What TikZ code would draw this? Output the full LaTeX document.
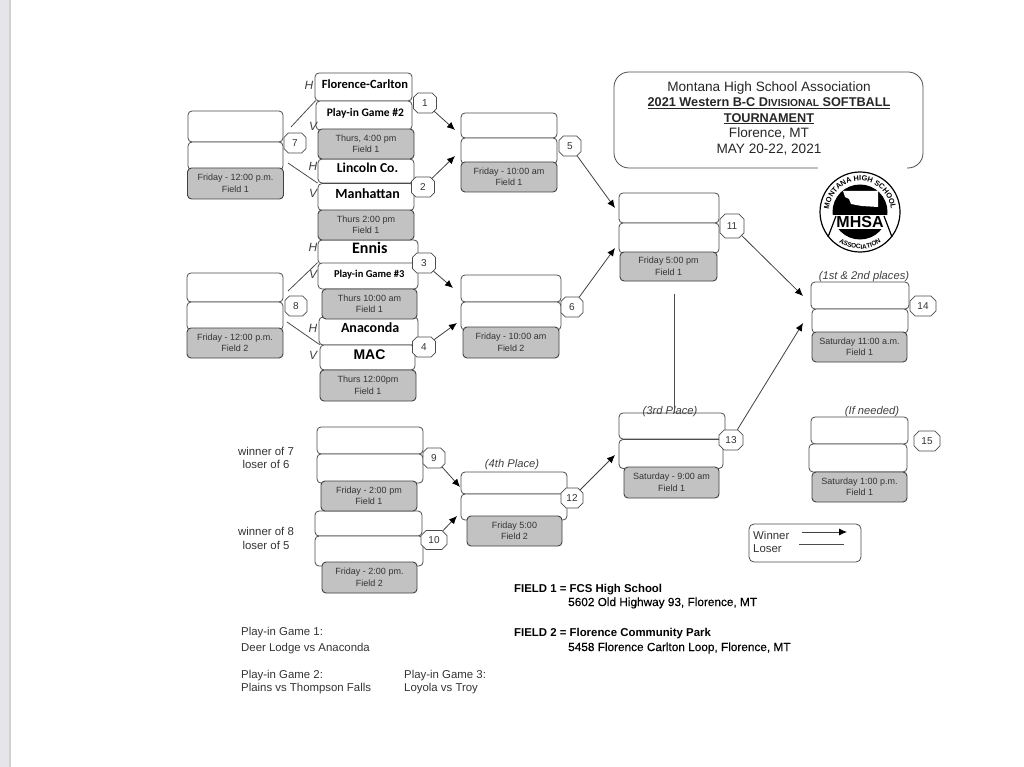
\documentclass[tikz,border=0pt]{standalone}
\usepackage{fontspec}
\setmainfont{Liberation Sans}
\newfontfamily\teamfont{Carlito}
\newfontfamily\addrfont[FakeBold=0.3]{Liberation Sans}
\usetikzlibrary{arrows.meta,shapes.misc,decorations.text}
\newcommand{\tfont}[1]{\teamfont\bfseries\fontsize{#1}{#1}\selectfont}
\newcommand{\afont}[1]{\bfseries\fontsize{#1}{#1}\selectfont}
\definecolor{pageedge}{HTML}{E5E5EA}

\begin{document}
\begin{tikzpicture}[x=1pt,y=-1pt,
    slot/.style = {draw=black!70, fill=white, rounded corners=4pt, line width=0.8pt, inner sep=0pt, text depth=5pt, text height=8pt, text=black},
    timeslot/.style = {draw=black!75, fill=black!24, rounded corners=4pt, line width=0.9pt, inner sep=0pt, align=center, text=black!80, font=\fontsize{9}{11.5}\selectfont},
    numtag/.style = {draw=black!70, fill=white, chamfered rectangle, chamfered rectangle angle=45, chamfered rectangle xsep=1.6pt, line width=0.8pt, inner sep=0pt, text=black!80, font=\fontsize{10}{10}\selectfont},
    side/.style = {text=black!75, font=\itshape\fontsize{12}{12}\selectfont},
    note/.style = {text=black!80, font=\fontsize{11.4}{11.4}\selectfont},
    place/.style = {text=black!75, font=\itshape\fontsize{11.2}{11.2}\selectfont},
    win/.style = {draw=black!75, line width=0.8pt, -{Latex[length=8pt,width=7pt,black]}},
    lose/.style = {draw=black!70, line width=0.8pt}]
    \useasboundingbox (0,0) rectangle (1024,767);
    \fill[pageedge] (0,0) rectangle (10,767);
    \fill[black!18] (9,0) rectangle (11,767);

    \node[draw=black!70, line width=0.8pt, rounded corners=15pt, minimum width=309pt, minimum height=96pt] (titlebox) at (768.5,120) {};
    \node[align=center, text=black!85, font=\fontsize{13.6}{15.5}\selectfont] (titletext) at (769,118)
        {Montana High School Association\\
        {\afont{12.7}\underline{2021 Western B-C D{\fontsize{10.2}{10.2}\selectfont IVISIONAL} SOFTBALL}}\\
        {\afont{12.7}\underline{TOURNAMENT}}\\
        Florence, MT\\
        MAY 20-22, 2021};

    \foreach \nm/\cx/\cy/\bw/\bh/\lbl in {
        a1/363.5/87/97/28/{\tfont{12.5} Florence-Carlton},
        a2/364/115.5/96/29/{\tfont{11.5} Play-in Game \#2},
        a3/366/171/96/24/{\tfont{13.6} Lincoln Co.},
        a4/366/197/96/27/{\tfont{14} Manhattan},
        a5/368/252/100/24/{\tfont{16} Ennis},
        a6/368/276/100/26/{\tfont{10.5} Play-in Game \#3},
        a7/368.5/331/99/28/{\tfont{14} Anaconda},
        a8/367.5/357.5/95/25/{\afont{14} MAC},
        b7a/235.5/126.5/95/31/{}, b7b/235.5/156/95/28/{},
        b8a/235/287.5/96/29/{}, b8b/235/316/96/28/{},
        b5a/509/125.5/96/25/{}, b5b/509/151/96/26/{},
        b6a/511/288.5/100/27/{}, b6b/511/316/100/28/{},
        b11a/669/208/100/30/{}, b11b/669/238/100/30/{},
        b13a/672/426/106/26/{}, b13b/671/454/104/29/{},
        b14a/860/295.5/98/27/{}, b14b/860/321/96/24/{},
        b15a/859.5/430.5/97/27/{}, b15b/858/458/98/28/{},
        b9a/370/440.5/106/27/{}, b9b/370/468.5/106/29/{},
        b10a/368.5/523.5/107/25/{}, b10b/369/551/108/30/{},
        b12a/514/483/106/22/{}, b12b/514/507/106/26/{}} {
        \node[slot, minimum width=\bw pt, minimum height=\bh pt] (\nm) at (\cx,\cy) {\lbl};
    }

    \foreach \nm/\cx/\cy/\bw/\bh/\lbl in {
        g1/366/144/96/30/{Thurs, 4:00 pm\\Field 1},
        g2/366/225/96/30/{Thurs 2:00 pm\\Field 1},
        g3/369.5/304/95/30/{Thurs 10:00 am\\Field 1},
        g4/368/385.5/96/31/{Thurs 12:00pm\\Field 1},
        g5/509/177/96/30/{Friday - 10:00 am\\Field 1},
        g6/511/342.5/96/31/{Friday - 10:00 am\\Field 2},
        g7/235.5/183.5/96/31/{Friday - 12:00 p.m.\\Field 1},
        g8/235/343/96/30/{Friday - 12:00 p.m.\\Field 2},
        g9/369/496/96/30/{Friday - 2:00 pm\\Field 1},
        g10/369.5/577.5/95/31/{Friday - 2:00 pm.\\Field 2},
        g11/668.5/266.5/97/29/{Friday 5:00 pm\\Field 1},
        g12/514.5/531/95/30/{Friday 5:00\\Field 2},
        g13/671.5/482.5/95/31/{Saturday - 9:00 am\\Field 1},
        g14/859.5/347/95/30/{Saturday 11:00 a.m.\\Field 1},
        g15/859.5/487/95/30/{Saturday 1:00 p.m.\\Field 1}} {
        \node[timeslot, minimum width=\bw pt, minimum height=\bh pt] (\nm) at (\cx,\cy) {\lbl};
    }

    \foreach \num/\cx/\cy/\bw/\bh in {
        1/425/103/23/20, 2/423/187/23/20, 3/424/263/23/20, 4/424/347/23/20,
        5/570/146/22/20, 6/572/307/22/20, 7/295/143/22/20, 8/296/306/22/20,
        9/434/458/22/20, 10/434/540/26/19, 11/732/226/24/24, 12/572/498/22/20,
        13/731/440/24/20, 14/923/306/26/20, 15/927/441/26/20} {
        \node[numtag, minimum width=\bw pt, minimum height=\bh pt] (tag\num) at (\cx,\cy) {\num};
    }

    \foreach \nm/\cx/\cy/\lbl in {
        h1/309/85/H, v1/313/126/V, h2/313/166/H, v2/313/193/V,
        h3/313/247/H, v3/313/274/V, h4/313/328/H, v4/313/355/V} {
        \node[side] (\nm) at (\cx,\cy) {\lbl};
    }

    \foreach \nm/\cx/\cy/\lbl in {
        p12/864/276.5/{(1st \& 2nd places)}, p34/670/412/{(3rd Place)},
        p4/512/465/{(4th Place)}, pif/872/412/{(If needed)}} {
        \node[place] (\nm) at (\cx,\cy) {\lbl};
    }

    \foreach \nm/\cx/\cy/\lbl in {
        w7/266/451/winner of 7, l6/266/464/loser of 6,
        w8/266/531/winner of 8, l5/266/545/loser of 5} {
        \node[note] (\nm) at (\cx,\cy) {\lbl};
    }

    \foreach \nm/\cx/\cy/\lbl in {
        n1/241/632.5/{Play-in Game 1:}, n2/241/648.5/{Deer Lodge vs Anaconda},
        n3/241/675.5/{Play-in Game 2:}, n4/241/688.5/{Plains vs Thompson Falls},
        n5/404/675.5/{Play-in Game 3:}, n6/404/688.5/{Loyola vs Troy}} {
        \node[note, anchor=west, inner sep=0pt] (\nm) at (\cx,\cy) {\lbl};
    }

    \node[anchor=west, inner sep=0pt, font=\afont{11.4}] (field1) at (514,589.5) {FIELD 1 = FCS High School};
    \node[anchor=west, inner sep=0pt, font=\addrfont\fontsize{11.8}{11.8}\selectfont] (addr1) at (568,603) {5602 Old Highway 93, Florence, MT};
    \node[anchor=west, inner sep=0pt, font=\afont{11.4}] (field2) at (514,633.5) {FIELD 2 = Florence Community Park};
    \node[anchor=west, inner sep=0pt, font=\addrfont\fontsize{11.8}{11.8}\selectfont] (addr2) at (568,648) {5458 Florence Carlton Loop, Florence, MT};

    \coordinate (in5a) at (455,130);
    \coordinate (in5b) at (455,156);
    \coordinate (in6a) at (453,288);
    \coordinate (in6b) at (457,323);
    \coordinate (in11a) at (615,208);
    \coordinate (in11b) at (615,248);
    \coordinate (in12a) at (460,487);
    \coordinate (in12b) at (457,516);
    \coordinate (in13) at (615,455);
    \coordinate (in14a) at (803,296);
    \coordinate (in14b) at (803,323);
    \coordinate (out7a) at (291,127);
    \coordinate (out7b) at (288,163);
    \coordinate (out8a) at (288,291);
    \coordinate (out8b) at (287,322);
    \coordinate (out11) at (674,294);

    \draw[win] (tag1) -- (in5a);
    \draw[win] (tag2) -- (in5b);
    \draw[win] (tag3) -- (in6a);
    \draw[win] (tag4) -- (in6b);
    \draw[win] (tag5) -- (in11a);
    \draw[win] (tag6) -- (in11b);
    \draw[win] (tag9) -- (in12a);
    \draw[win] (tag10) -- (in12b);
    \draw[win] (tag12) -- (in13);
    \draw[win] (tag11) -- (in14a);
    \draw[win] (tag13) -- (in14b);
    \draw[lose] (out7a) -- (a2.north west);
    \draw[lose] (out7b) -- (a4.north west);
    \draw[lose] (out8a) -- (a6.north west);
    \draw[lose] (out8b) -- (a8.north west);
    \draw[lose] (out11) -- (out11 |- b13a.north);

    \node[draw=black!70, line width=0.8pt, rounded corners=5pt, minimum width=112pt, minimum height=38pt] (legend) at (805,543) {};
    \node[note, anchor=west, inner sep=0pt] (lwin) at (753,535) {Winner};
    \node[note, anchor=west, inner sep=0pt] (llose) at (753,549) {Loser};
    \coordinate (lwa) at (802,532);
    \coordinate (lwb) at (847,532);
    \coordinate (lla) at (799,544);
    \coordinate (llb) at (844,544);
    \draw[win] (lwa) -- (lwb);
    \draw[lose] (lla) -- (llb);

    \fill[white] (818,162) rectangle (907,172);
    \coordinate (logo) at (860,212);
    \draw[black, fill=white, line width=1.2pt] (logo) circle (40);
    \begin{scope}
        \clip (logo) circle (27.5);
        \fill[black] (830,182) rectangle (890,215);
        \fill[black] (830,229) rectangle (890,242);
    \end{scope}
    \fill[white] (843,191) -- (878,191) -- (878,207) -- (862,206) -- (856,205) -- (851,204) -- (849,199) -- (845,197) -- cycle;
    \draw[black, line width=1.2pt] (836,216) -- (828,237);
    \draw[black, line width=1.2pt] (884,216) -- (892,237);
    \node[inner sep=0pt, font=\afont{16}] (mhsa) at (860,222) {MHSA};
    \path[decorate, decoration={text along path, text align=center,
        text={|\bfseries\fontsize{7.4}{7.4}\selectfont|MONTANA HIGH SCHOOL}}]
        (829,212) arc (180:360:31);
    \path[decorate, decoration={text along path, text align=center,
        text={|\bfseries\fontsize{6.5}{6.5}\selectfont|ASSOCIATION}}]
        (823,212) arc (180:0:37);
\end{tikzpicture}
\end{document}
